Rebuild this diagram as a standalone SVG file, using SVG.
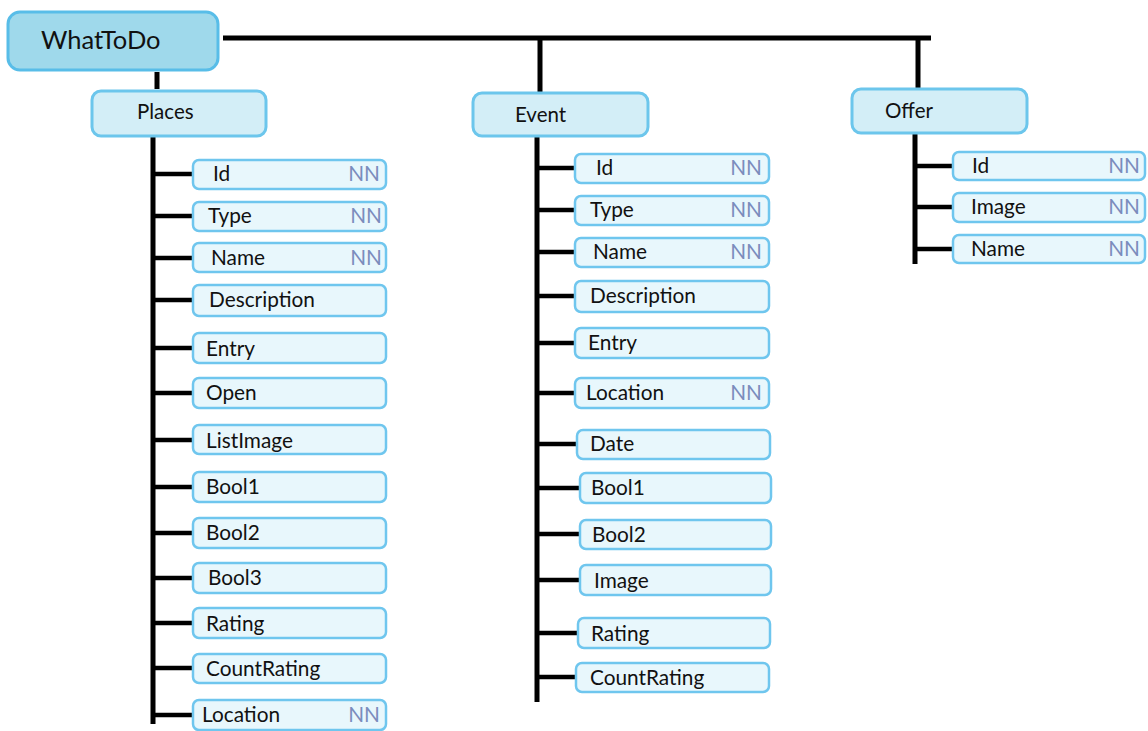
<svg xmlns="http://www.w3.org/2000/svg" width="1148" height="731" viewBox="0 0 1148 731">
<style>
.root{fill:#9fd9eb;stroke:#58bde8;stroke-width:3}
.ent{fill:#d3eef7;stroke:#6cc6ec;stroke-width:3}
.it{fill:#e8f7fc;stroke:#6fc6ee;stroke-width:2.5}
text{font-family:Lato,"Open Sans",sans-serif;fill:#111}
.t{font-size:20.8px}
.nn{font-size:20.8px;fill:#7b8cbd;text-anchor:end}
.h{font-size:20.5px}
.big{font-size:25.5px}
.ln{stroke:#000;stroke-width:5;fill:none}
.tk{stroke:#000;stroke-width:4.5;fill:none}
</style>
<rect width="1148" height="731" fill="#fff"/>
<g id="connectors">
<line class="ln" x1="223" y1="38" x2="931" y2="38"/>
<line class="ln" x1="540" y1="38" x2="540" y2="92"/>
<line class="ln" x1="918" y1="38" x2="918" y2="88"/>
<line class="ln" x1="157" y1="72" x2="157" y2="89"/>
<line class="ln" x1="153" y1="137" x2="153" y2="724"/>
<line class="ln" x1="537" y1="136" x2="537" y2="702"/>
<line class="ln" x1="915" y1="133" x2="915" y2="264"/>
<g>
<line class="tk" x1="153" y1="174" x2="193" y2="174"/>
<line class="tk" x1="153" y1="216" x2="193" y2="216"/>
<line class="tk" x1="153" y1="258" x2="193" y2="258"/>
<line class="tk" x1="153" y1="300" x2="193" y2="300"/>
<line class="tk" x1="153" y1="348" x2="193" y2="348"/>
<line class="tk" x1="153" y1="393" x2="193" y2="393"/>
<line class="tk" x1="153" y1="440" x2="193" y2="440"/>
<line class="tk" x1="153" y1="487" x2="193" y2="487"/>
<line class="tk" x1="153" y1="533" x2="193" y2="533"/>
<line class="tk" x1="153" y1="578" x2="193" y2="578"/>
<line class="tk" x1="153" y1="623" x2="193" y2="623"/>
<line class="tk" x1="153" y1="668" x2="193" y2="668"/>
<line class="tk" x1="153" y1="715" x2="193" y2="715"/>
</g>
<g>
<line class="tk" x1="537" y1="168" x2="575" y2="168"/>
<line class="tk" x1="537" y1="210" x2="575" y2="210"/>
<line class="tk" x1="537" y1="252" x2="575" y2="252"/>
<line class="tk" x1="537" y1="296" x2="575" y2="296"/>
<line class="tk" x1="537" y1="343" x2="575" y2="343"/>
<line class="tk" x1="537" y1="393" x2="575" y2="393"/>
<line class="tk" x1="537" y1="444" x2="577" y2="444"/>
<line class="tk" x1="537" y1="488" x2="580" y2="488"/>
<line class="tk" x1="537" y1="534" x2="580" y2="534"/>
<line class="tk" x1="537" y1="580" x2="580" y2="580"/>
<line class="tk" x1="537" y1="633" x2="578" y2="633"/>
<line class="tk" x1="537" y1="677" x2="576" y2="677"/>
</g>
<g>
<line class="tk" x1="915" y1="166" x2="953" y2="166"/>
<line class="tk" x1="915" y1="207" x2="953" y2="207"/>
<line class="tk" x1="915" y1="249" x2="953" y2="249"/>
</g>
</g>
<g id="whattodo"><rect class="root" x="8" y="12" width="210" height="58" rx="12"/><text class="big" x="41" y="49">WhatToDo</text></g>
<g id="places"><rect class="ent" x="92" y="91" width="174" height="45" rx="9"/><text class="h" x="137" y="119">Places</text></g>
<g id="event"><rect class="ent" x="473" y="93" width="175" height="43" rx="9"/><text class="h" x="515" y="122">Event</text></g>
<g id="offer"><rect class="ent" x="852" y="89" width="175" height="44" rx="9"/><text class="h" x="885" y="118">Offer</text></g>

<g id="places-id"><rect class="it" x="193" y="160" width="193" height="29" rx="6"/><text class="t" x="213" y="181">Id</text><text class="nn" x="380" y="181">NN</text></g>
<g id="places-type"><rect class="it" x="193" y="202" width="193" height="29" rx="6"/><text class="t" x="208" y="223">Type</text><text class="nn" x="382" y="223">NN</text></g>
<g id="places-name"><rect class="it" x="193" y="243" width="193" height="29" rx="6"/><text class="t" x="211" y="265">Name</text><text class="nn" x="382" y="265">NN</text></g>
<g id="places-description"><rect class="it" x="193" y="285" width="193" height="31" rx="6"/><text class="t" x="209" y="307">Description</text></g>
<g id="places-entry"><rect class="it" x="193" y="333" width="193" height="30" rx="6"/><text class="t" x="206" y="356">Entry</text></g>
<g id="places-open"><rect class="it" x="193" y="378" width="193" height="30" rx="6"/><text class="t" x="206" y="400">Open</text></g>
<g id="places-listimage"><rect class="it" x="193" y="425" width="193" height="29" rx="6"/><text class="t" x="206" y="448">ListImage</text></g>
<g id="places-bool1"><rect class="it" x="193" y="472" width="193" height="30" rx="6"/><text class="t" x="206" y="494">Bool1</text></g>
<g id="places-bool2"><rect class="it" x="193" y="518" width="193" height="30" rx="6"/><text class="t" x="206" y="540">Bool2</text></g>
<g id="places-bool3"><rect class="it" x="193" y="563" width="193" height="30" rx="6"/><text class="t" x="208" y="585">Bool3</text></g>
<g id="places-rating"><rect class="it" x="193" y="608" width="193" height="30" rx="6"/><text class="t" x="206" y="631">Rating</text></g>
<g id="places-countrating"><rect class="it" x="193" y="654" width="193" height="29" rx="6"/><text class="t" x="206" y="676">CountRating</text></g>
<g id="places-location"><rect class="it" x="193" y="700" width="193" height="30" rx="6"/><text class="t" x="202" y="722">Location</text><text class="nn" x="380" y="722">NN</text></g>

<g id="event-id"><rect class="it" x="575" y="154" width="194" height="29" rx="6"/><text class="t" x="596" y="175">Id</text><text class="nn" x="762" y="175">NN</text></g>
<g id="event-type"><rect class="it" x="575" y="196" width="194" height="29" rx="6"/><text class="t" x="590" y="217">Type</text><text class="nn" x="762" y="217">NN</text></g>
<g id="event-name"><rect class="it" x="575" y="238" width="194" height="29" rx="6"/><text class="t" x="593" y="259">Name</text><text class="nn" x="762" y="259">NN</text></g>
<g id="event-description"><rect class="it" x="575" y="281" width="194" height="31" rx="6"/><text class="t" x="590" y="303">Description</text></g>
<g id="event-entry"><rect class="it" x="575" y="328" width="194" height="30" rx="6"/><text class="t" x="588" y="350">Entry</text></g>
<g id="event-location"><rect class="it" x="575" y="378" width="194" height="30" rx="6"/><text class="t" x="586" y="400">Location</text><text class="nn" x="762" y="400">NN</text></g>
<g id="event-date"><rect class="it" x="577" y="430" width="193" height="29" rx="6"/><text class="t" x="590" y="451">Date</text></g>
<g id="event-bool1"><rect class="it" x="580" y="473" width="191" height="30" rx="6"/><text class="t" x="591" y="495">Bool1</text></g>
<g id="event-bool2"><rect class="it" x="580" y="520" width="191" height="29" rx="6"/><text class="t" x="592" y="542">Bool2</text></g>
<g id="event-image"><rect class="it" x="580" y="565" width="191" height="30" rx="6"/><text class="t" x="594" y="588">Image</text></g>
<g id="event-rating"><rect class="it" x="578" y="618" width="192" height="30" rx="6"/><text class="t" x="591" y="641">Rating</text></g>
<g id="event-countrating"><rect class="it" x="576" y="663" width="193" height="29" rx="6"/><text class="t" x="590" y="685">CountRating</text></g>

<g id="offer-id"><rect class="it" x="953" y="152" width="192" height="28" rx="6"/><text class="t" x="972" y="173">Id</text><text class="nn" x="1140" y="173">NN</text></g>
<g id="offer-image"><rect class="it" x="953" y="193" width="192" height="29" rx="6"/><text class="t" x="971" y="214">Image</text><text class="nn" x="1140" y="214">NN</text></g>
<g id="offer-name"><rect class="it" x="953" y="235" width="192" height="28" rx="6"/><text class="t" x="971" y="256">Name</text><text class="nn" x="1140" y="256">NN</text></g>
</svg>
